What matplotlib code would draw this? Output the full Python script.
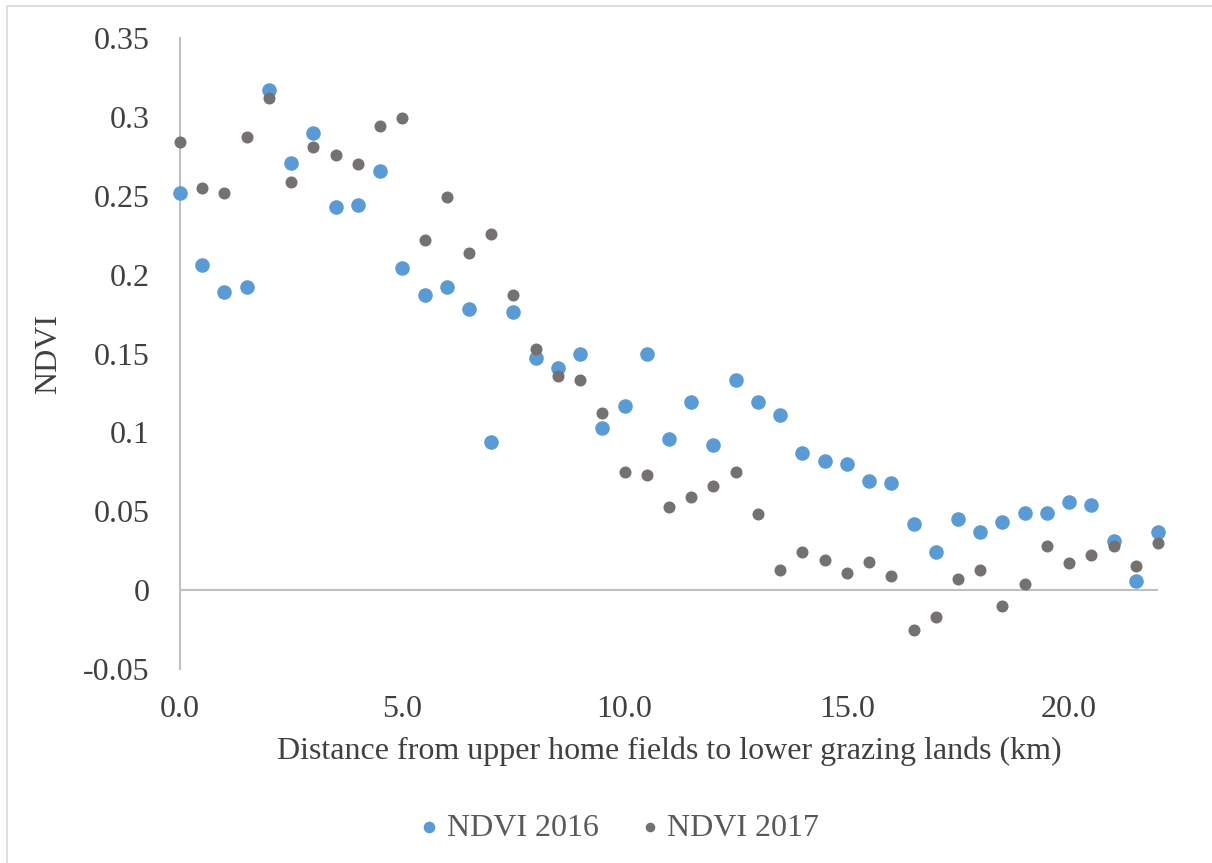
import matplotlib.pyplot as plt
from matplotlib.patches import Rectangle
from matplotlib.ticker import FormatStrFormatter

plt.rcParams['font.family'] = ['Liberation Serif', 'DejaVu Serif']

# distance along transect (km), every 0.5 km
distance = [i * 0.5 for i in range(45)]

ndvi_2016 = [0.252, 0.206, 0.189, 0.192, 0.317, 0.271, 0.290, 0.243, 0.244, 0.266,
             0.204, 0.187, 0.192, 0.178, 0.094, 0.176, 0.147, 0.141, 0.150, 0.103,
             0.117, 0.150, 0.096, 0.119, 0.092, 0.133, 0.119, 0.111, 0.087, 0.082,
             0.080, 0.069, 0.068, 0.042, 0.024, 0.045, 0.037, 0.043, 0.049, 0.049,
             0.056, 0.054, 0.031, 0.006, 0.037]

ndvi_2017 = [0.284, 0.255, 0.252, 0.287, 0.312, 0.259, 0.281, 0.276, 0.270, 0.294,
             0.299, 0.222, 0.249, 0.214, 0.226, 0.187, 0.153, 0.136, 0.133, 0.112,
             0.075, 0.073, 0.053, 0.059, 0.066, 0.075, 0.048, 0.013, 0.024, 0.019,
             0.011, 0.018, 0.009, -0.025, -0.017, 0.007, 0.013, -0.010, 0.004, 0.028,
             0.017, 0.022, 0.028, 0.015, 0.030]

x_ticks = [0, 5, 10, 15, 20]
y_ticks = [-0.05, 0, 0.05, 0.1, 0.15, 0.2, 0.25, 0.3, 0.35]
y_labels = ['-0.05', '0', '0.05', '0.1', '0.15', '0.2', '0.25', '0.3', '0.35']

BLUE = '#5B9BD5'
GRAY = '#767171'
TEXT = '#404040'
AXIS = '#BFBFBF'
FS = 23

fig = plt.figure(figsize=(12.12, 8.63), dpi=100)
fig.patches.append(Rectangle((7 / 1212, -0.1), 1.2, 1.1 - 6 / 863,
                             transform=fig.transFigure, fill=False,
                             edgecolor='#D9D9D9', linewidth=1.2))

ax = fig.add_axes([180 / 1212, 1 - 669 / 863, (1158 - 180) / 1212, (669 - 38) / 863])

ax.scatter(distance, ndvi_2016, s=110, color=BLUE, label='NDVI 2016', zorder=3,
           linewidths=0, clip_on=False)
ax.scatter(distance, ndvi_2017, s=75, color=GRAY, label='NDVI 2017', zorder=3,
           linewidths=0, clip_on=False)

ax.set_xlim(0, 22)
ax.set_ylim(-0.05, 0.35)
ax.set_xticks(x_ticks)
ax.xaxis.set_major_formatter(FormatStrFormatter('%.1f'))
ax.set_yticks(y_ticks)
ax.set_yticklabels(y_labels)

for s in ['top', 'right', 'bottom']:
    ax.spines[s].set_visible(False)
ax.spines['left'].set_color(AXIS)
ax.spines['left'].set_linewidth(1.5)
ax.axhline(0, color=AXIS, linewidth=1.5, zorder=1)

ax.tick_params(axis='both', length=0, labelsize=FS, labelcolor=TEXT)
ax.tick_params(axis='x', pad=19)
ax.tick_params(axis='y', pad=22)

ax.set_xlabel('Distance from upper home fields to lower grazing lands (km)',
              fontsize=FS, color=TEXT, labelpad=9)
ax.set_ylabel('NDVI', fontsize=FS, color=TEXT, labelpad=14)

leg = fig.legend(loc='center', bbox_to_anchor=(0.507, 1 - 828 / 863), ncol=2,
                 frameon=False, fontsize=FS, handletextpad=-0.05, handlelength=1.2,
                 columnspacing=1.0, markerscale=0.8)
for t in leg.get_texts():
    t.set_color('#595959')

fig.savefig('out.png', dpi=100)
